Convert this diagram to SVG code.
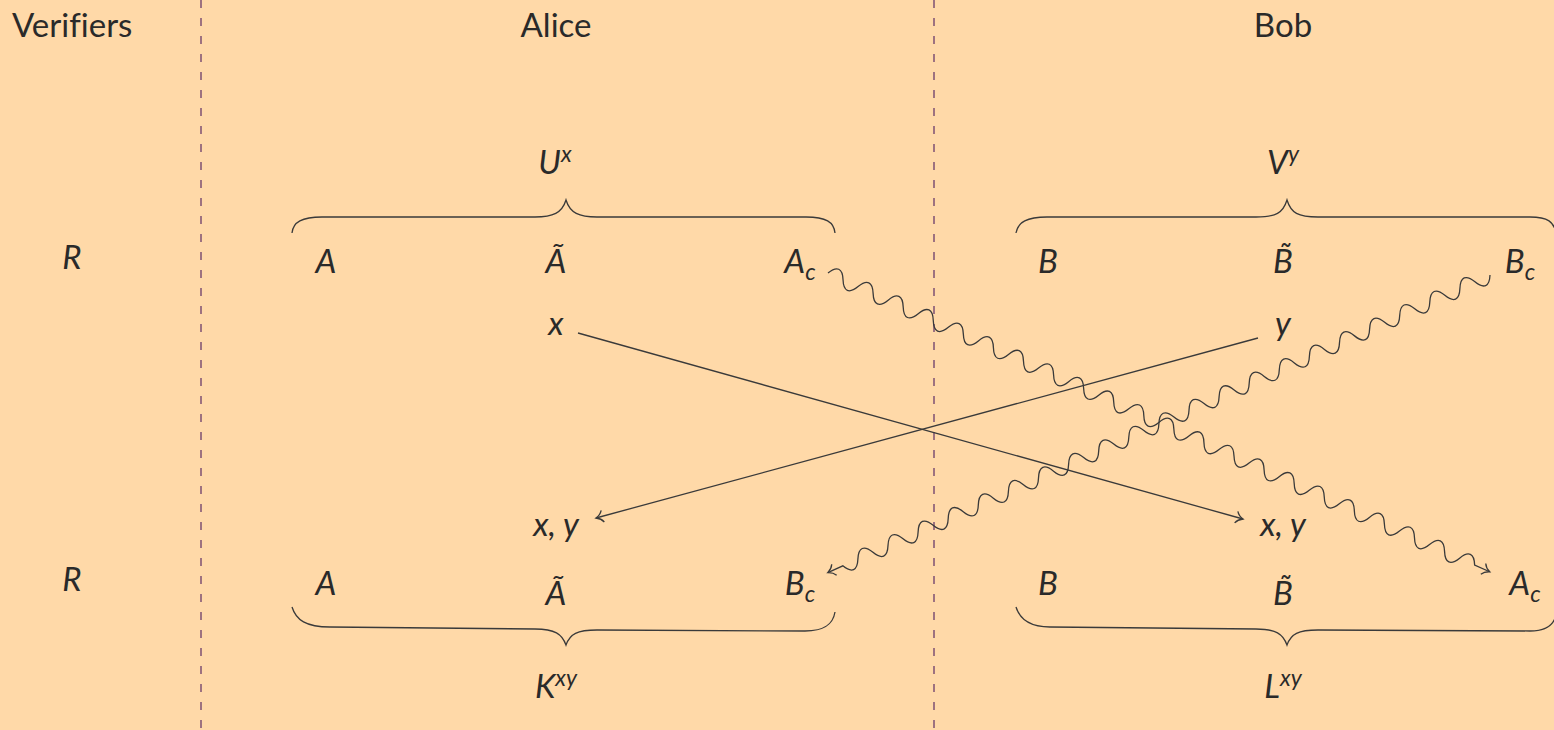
<svg xmlns="http://www.w3.org/2000/svg" width="1554" height="730" viewBox="0 0 1554 730">
<style>
.t{font-family:Lato,"Liberation Sans",sans-serif;font-size:33px;fill:#2a2a2a;font-variant-ligatures:none}
.m{font-family:Lato,"Liberation Sans",sans-serif;font-size:33px;font-style:italic;fill:#2a2a2a}
.s{font-size:23px}
.br{fill:none;stroke:#3a3a3a;stroke-width:1.3}
.ln{fill:none;stroke:#3a3a3a;stroke-width:1.3}
.dash{stroke:#76476f;stroke-width:1.4;stroke-dasharray:8 10}
</style>
<defs>
<marker id="to" markerUnits="userSpaceOnUse" orient="auto" refX="0" refY="0" markerWidth="12" markerHeight="12" overflow="visible">
<path d="M-7,-6 C-5,-2 -1,-0.4 0,0 C-1,0.4 -5,2 -7,6" fill="none" stroke="#3a3a3a" stroke-width="1.3"/>
</marker>
<path id="wave" class="ln" d="M0,0 c5.2,-10.5 11.3,-10.5 16.5,0 s11.3,10.5 16.5,0 s11.3,-10.5 16.5,0 s11.3,10.5 16.5,0 s11.3,-10.5 16.5,0 s11.3,10.5 16.5,0 s11.3,-10.5 16.5,0 s11.3,10.5 16.5,0 s11.3,-10.5 16.5,0 s11.3,10.5 16.5,0 s11.3,-10.5 16.5,0 s11.3,10.5 16.5,0 s11.3,-10.5 16.5,0 s11.3,10.5 16.5,0 s11.3,-10.5 16.5,0 s11.3,10.5 16.5,0 s11.3,-10.5 16.5,0 s11.3,10.5 16.5,0 s11.3,-10.5 16.5,0 s11.3,10.5 16.5,0 s11.3,-10.5 16.5,0 s11.3,10.5 16.5,0 s11.3,-10.5 16.5,0 s11.3,10.5 16.5,0 s11.3,-10.5 16.5,0 s11.3,10.5 16.5,0 s11.3,-10.5 16.5,0 s11.3,10.5 16.5,0 s11.3,-10.5 16.5,0 s11.3,10.5 16.5,0 s11.3,-10.5 16.5,0 s11.3,10.5 16.5,0 s11.3,-10.5 16.5,0 s11.3,10.5 16.5,0 s11.3,-10.5 16.5,0 s11.3,10.5 16.5,0 s11.3,-10.5 16.5,0 s11.3,10.5 16.5,0 s11.3,-10.5 16.5,0 s11.3,10.5 16.5,0 s11.3,-10.5 16.5,0 s11.3,10.5 16.5,0 s11.3,-10.5 16.5,0 l16.5,0" marker-end="url(#to)"/>
</defs>
<rect width="1554" height="730" fill="#FFD9A8"/>
<g id="separators">
<line class="dash" x1="201" y1="0" x2="201" y2="730"/>
<line class="dash" x1="934" y1="0" x2="934" y2="730"/>
</g>
<g id="headers">
<text class="t" x="12" y="37">Verifiers</text>
<text class="t" x="556" y="37" text-anchor="middle">Alice</text>
<text class="t" x="1283" y="37" text-anchor="middle">Bob</text>
</g>
<g id="verifiers">
<text class="m" x="72" y="269" text-anchor="middle">R</text>
<text class="m" x="72" y="591" text-anchor="middle">R</text>
</g>
<g id="alice-top">
<text class="m" x="555" y="174" text-anchor="middle">U<tspan class="s" dy="-12">x</tspan></text>
<path class="br" d="M292,233 C293,222 302,217 322,217 L535,217 C553,217 562,213 566,200 C570,213 579,217 597,217 L806,217 C826,217 834,222 835,233"/>
<text class="m" x="326" y="273" text-anchor="middle">A</text>
<text class="m" x="556" y="273" text-anchor="middle">Ã</text>
<text class="m" x="800" y="273" text-anchor="middle">A<tspan class="s" dy="7">c</tspan></text>
<text class="m" x="556" y="335" text-anchor="middle">x</text>
</g>
<g id="bob-top">
<text class="m" x="1283" y="174" text-anchor="middle">V<tspan class="s" dy="-12">y</tspan></text>
<path class="br" d="M1016,233 C1018,222 1027,217 1047,217 L1256,217 C1276,217 1283,213 1287,200 C1291,213 1298,217 1318,217 L1530,217 C1548,217 1554,222 1556,233"/>
<text class="m" x="1048" y="273" text-anchor="middle">B</text>
<text class="m" x="1283" y="273" text-anchor="middle">B̃</text>
<text class="m" x="1520" y="273" text-anchor="middle">B<tspan class="s" dy="7">c</tspan></text>
<text class="m" x="1283" y="335" text-anchor="middle">y</text>
</g>
<g id="alice-bottom">
<text class="m" x="556" y="536" text-anchor="middle">x, y</text>
<text class="m" x="326" y="595" text-anchor="middle">A</text>
<text class="m" x="556" y="605" text-anchor="middle">Ã</text>
<text class="m" x="800" y="595" text-anchor="middle">B<tspan class="s" dy="7">c</tspan></text>
<path class="br" d="M292,607 C296,620 306,627 330,627 L535,629 C555,629 562,634 566,645 C570,634 577,630 597,630 L805,631 C825,631 833,624 835,612"/>
<text class="m" x="556" y="698" text-anchor="middle">K<tspan class="s" dy="-12">xy</tspan></text>
</g>
<g id="bob-bottom">
<text class="m" x="1283" y="536" text-anchor="middle">x, y</text>
<text class="m" x="1048" y="595" text-anchor="middle">B</text>
<text class="m" x="1283" y="605" text-anchor="middle">B̃</text>
<text class="m" x="1525" y="595" text-anchor="middle">A<tspan class="s" dy="7">c</tspan></text>
<path class="br" d="M1016,607 C1020,620 1030,627 1050,627 L1256,629 C1276,629 1283,634 1287,645 C1291,634 1298,630 1318,630 L1530,631 C1548,631 1554,624 1556,615"/>
<text class="m" x="1283" y="698" text-anchor="middle">L<tspan class="s" dy="-12">xy</tspan></text>
</g>
<g id="connectors">
<line class="ln" x1="578" y1="333" x2="1243" y2="519" marker-end="url(#to)"/>
<line class="ln" x1="1258" y1="338" x2="596" y2="518" marker-end="url(#to)"/>
<use href="#wave" transform="translate(828,273) rotate(24.3)"/>
<use href="#wave" transform="translate(1490,275) rotate(155.8)"/>
</g>
</svg>
